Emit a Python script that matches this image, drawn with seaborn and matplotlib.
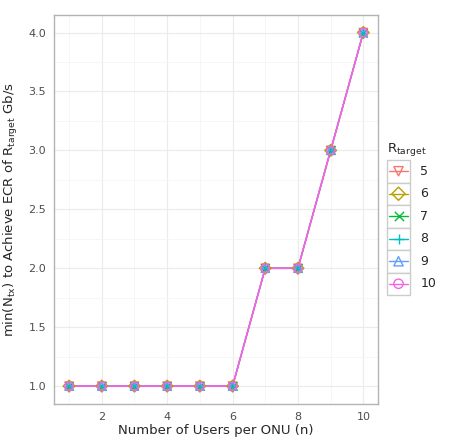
import numpy as np
import pandas as pd
import matplotlib
matplotlib.use("Agg")
import matplotlib.pyplot as plt
import seaborn as sns
from matplotlib.ticker import MultipleLocator
from matplotlib.patches import Rectangle

# data: same minimum Ntx for every Rtarget
users = [1, 2, 3, 4, 5, 6, 7, 8, 9, 10]
r_targets = ["5", "6", "7", "8", "9", "10"]
min_ntx = [1, 1, 1, 1, 1, 1, 2, 2, 3, 4]

colors = ["#F8766D", "#B79F00", "#00BA38", "#00BFC4", "#619CFF", "#F564E3"]
markers = ["v", "D", "x", "+", "^", "o"]

rows = []
for r in r_targets:
    for n, v in zip(users, min_ntx):
        rows.append({"n": n, "ntx": v, "R": r})
df = pd.DataFrame(rows)

sns.set_style("whitegrid")
plt.rcParams["font.family"] = ["DejaVu Sans"]

fig = plt.figure(figsize=(4.49, 4.37), dpi=100)
ax = fig.add_axes([0.121, 0.076, 0.721, 0.890])

# lines overlap exactly, the last one (10) ends up on top
for k, (r, c) in enumerate(zip(r_targets, colors)):
    sub = df[df["R"] == r]
    lw = 1.3 if k == len(r_targets) - 1 else 0.8
    sns.lineplot(data=sub, x="n", y="ntx", color=c, linewidth=lw,
                 ax=ax, legend=False)


def draw_marker(axis, x, y, c, m, s):
    if m in ("x", "+"):
        axis.scatter(x, y, marker=m, s=s, color=c, linewidths=1.0, zorder=3,
                     clip_on=False)
    else:
        axis.scatter(x, y, marker=m, s=s, facecolors="none", edgecolors=c,
                     linewidths=1.0, zorder=3, clip_on=False)


for r, c, m in zip(r_targets, colors, markers):
    sub = df[df["R"] == r]
    draw_marker(ax, sub["n"], sub["ntx"], c, m, 36)

ax.set_xlim(0.55, 10.45)
ax.set_ylim(0.85, 4.15)
ax.xaxis.set_minor_locator(MultipleLocator(1))
ax.yaxis.set_minor_locator(MultipleLocator(0.25))
ax.set_xticks([2, 4, 6, 8, 10])
yt = [1.0, 1.5, 2.0, 2.5, 3.0, 3.5, 4.0]
ax.set_yticks(yt)
ax.set_yticklabels([f"{t:.1f}" for t in yt])
ax.grid(which="major", color="#EBEBEB", linewidth=0.8)
ax.grid(which="minor", color="#F5F5F5", linewidth=0.6)
ax.set_axisbelow(True)
for s in ax.spines.values():
    s.set_color("#B3B3B3")
    s.set_linewidth(1.0)
ax.tick_params(axis="both", which="major", length=4, color="#7F7F7F",
               labelsize=8, labelcolor="#4D4D4D", direction="out", pad=2)
ax.tick_params(which="minor", length=0)
ax.set_xlabel("Number of Users per ONU (n)", fontsize=9.5, labelpad=1)
ax.set_ylabel(r"min(N$_{\mathrm{tx}}$) to Achieve ECR of R$_{\mathrm{target}}$ Gb/s",
              fontsize=9.5, labelpad=6)

# legend drawn as ggplot-style key boxes
lax = fig.add_axes([387 / 449, 1 - 295 / 437, 23 / 449, 135 / 437])
lax.set_xlim(0, 1)
lax.set_ylim(len(r_targets), 0)
lax.axis("off")
for i, (r, c, m) in enumerate(zip(r_targets, colors, markers)):
    lax.add_patch(Rectangle((0, i), 1, 1, facecolor="white",
                            edgecolor="#CCCCCC", linewidth=1.0, clip_on=False))
    lax.plot([0.08, 0.92], [i + 0.5, i + 0.5], color=c, linewidth=1.0)
    draw_marker(lax, [0.5], [i + 0.5], c, m, 45)
    lax.text(1.45, i + 0.5, r, fontsize=9, va="center", ha="left",
             transform=lax.transData)
fig.text(387 / 449, 1 - 150 / 437, r"R$_{\mathrm{target}}$", fontsize=9.5,
         ha="left", va="center")

fig.savefig("out.png", dpi=100)
